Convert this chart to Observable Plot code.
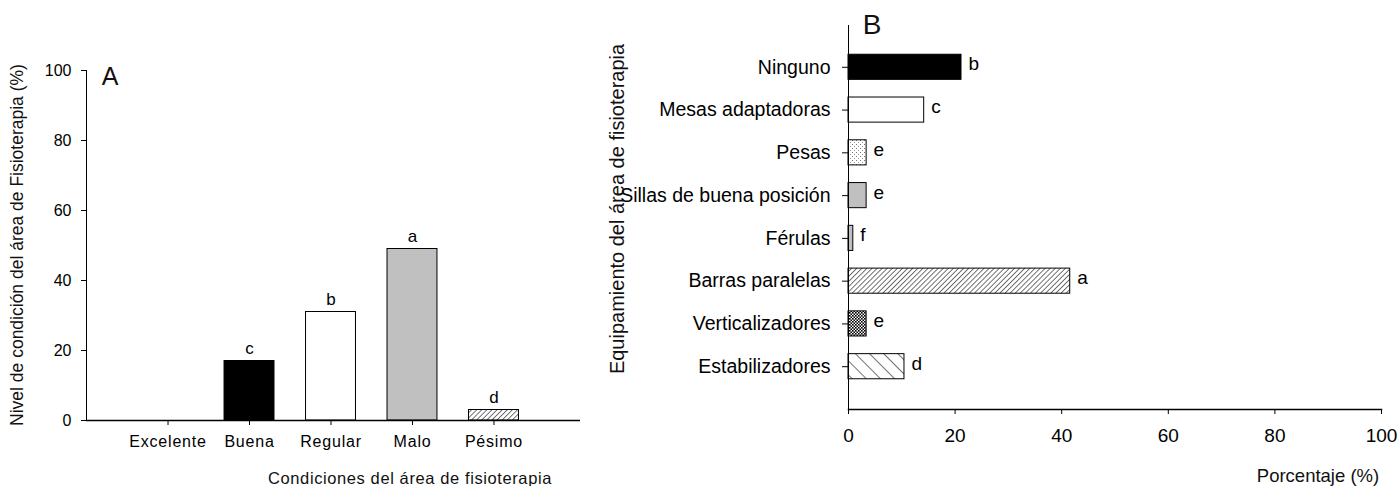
<!DOCTYPE html>
<html><head><meta charset="utf-8">
<script src="https://cdn.jsdelivr.net/npm/d3@7"></script>
<script src="https://cdn.jsdelivr.net/npm/@observablehq/plot@0.6"></script>
<style>
body{margin:0;background:#fff;font-family:"Liberation Sans",Arial,sans-serif;}
#wrap{position:relative;width:1397px;height:486px;overflow:hidden;background:#fff;}
#wrap svg.chart{position:absolute;top:0;overflow:visible;}
.t{position:absolute;transform:translate(-50%,-50%);white-space:nowrap;line-height:1;color:#111;}
.left g[aria-label="x-axis tick label"] text{letter-spacing:0.8px;}
</style></head><body>
<svg width="0" height="0" style="position:absolute">
<defs>
 <pattern id="hatchFine" patternUnits="userSpaceOnUse" width="3.6" height="3.6" patternTransform="rotate(45)">
   <rect width="3.6" height="3.6" fill="#fff"/><line x1="0" y1="0" x2="0" y2="3.6" stroke="#000" stroke-width="1.1"/>
 </pattern>
 <pattern id="hatchWide" patternUnits="userSpaceOnUse" width="10" height="10" patternTransform="rotate(-45)">
   <rect width="10" height="10" fill="#fff"/><line x1="0" y1="0" x2="0" y2="10" stroke="#000" stroke-width="1.1"/>
 </pattern>
 <pattern id="stipple" patternUnits="userSpaceOnUse" width="4" height="4">
   <rect width="4" height="4" fill="#fff"/><rect x="0" y="0" width="1" height="1" fill="#777"/><rect x="2" y="2" width="1" height="1" fill="#999"/>
 </pattern>
 <pattern id="checker" patternUnits="userSpaceOnUse" width="3" height="3">
   <rect width="3" height="3" fill="#fff"/><rect x="0" y="0" width="1.6" height="1.6" fill="#000"/><rect x="1.5" y="1.5" width="1.5" height="1.5" fill="#000"/>
 </pattern>
</defs></svg>
<div id="wrap"></div>
<script>
// ---- Panel A data ----
const condCats = ["Excelente", "Buena", "Regular", "Malo", "Pésimo"];
const condValues = [0, 17, 31, 49, 3];
const condLetters = ["", "c", "b", "a", "d"];
const condTicks = [0, 20, 40, 60, 80, 100];

// ---- Panel B data ----
const equipCats = ["Ninguno", "Mesas adaptadoras", "Pesas", "Sillas de buena posición", "Férulas", "Barras paralelas", "Verticalizadores", "Estabilizadores"];
const equipValues = [21.2, 14.2, 3.4, 3.4, 0.9, 41.6, 3.4, 10.5];
const equipLetters = ["b", "c", "e", "e", "f", "a", "e", "d"];
const pctTicks = [0, 20, 40, 60, 80, 100];

// ---- styles (kept apart from data) ----
const condFill = {"Excelente": "#fff", "Buena": "#000", "Regular": "#fff", "Malo": "#c0c0c0", "Pésimo": "url(#hatchFine)"};
const equipFill = {"Ninguno": "#000", "Mesas adaptadoras": "#fff", "Pesas": "url(#stipple)", "Sillas de buena posición": "#c0c0c0", "Férulas": "#c0c0c0", "Barras paralelas": "url(#hatchFine)", "Verticalizadores": "url(#checker)", "Estabilizadores": "url(#hatchWide)"};

const condRows = condCats.map((c, i) => ({cat: c, value: condValues[i], letter: condLetters[i]}));
const equipRows = equipCats.map((c, i) => ({cat: c, value: equipValues[i], letter: equipLetters[i]}));

const wrap = document.getElementById("wrap");
const FONT = "'Liberation Sans', Arial, sans-serif";

const left = Plot.plot({
  width: 600, height: 486,
  marginLeft: 86, marginRight: 20, marginTop: 70, marginBottom: 66,
  style: {fontFamily: FONT, color: "#000", background: "transparent"},
  x: {domain: condCats, range: [86, 575], paddingInner: 0.387, paddingOuter: 0.694, round: false},
  y: {domain: [0, 100]},
  color: {type: "identity"},
  marks: [
    Plot.barY(condRows.filter(d => d.value > 0), {x: "cat", y: "value", fill: d => condFill[d.cat], stroke: "#000", strokeWidth: 1}),
    Plot.text(condRows, {x: "cat", y: "value", text: "letter", dy: -12, fontSize: 17}),
    Plot.axisY({ticks: condTicks, tickSize: 5, tickPadding: 10, fontSize: 16, label: null}),
    Plot.axisX({tickSize: 5, tickPadding: 10, fontSize: 16, label: null}),
    Plot.ruleY([0], {stroke: "#000", strokeWidth: 1.5}),
    Plot.frame({anchor: "left", stroke: "#000"})
  ]
});
left.classList.add("chart", "left");
left.style.left = "0px";
wrap.appendChild(left);

const right = Plot.plot({
  width: 797, height: 486,
  marginLeft: 248, marginRight: 16, marginTop: 25, marginBottom: 77,
  style: {fontFamily: FONT, color: "#000", background: "transparent"},
  x: {domain: [0, 100], range: [248, 781]},
  y: {domain: equipCats, range: [24, 409], paddingInner: 0.413, paddingOuter: 0.707, round: false},
  color: {type: "identity"},
  marks: [
    Plot.barX(equipRows, {x: "value", y: "cat", fill: d => equipFill[d.cat], stroke: "#000", strokeWidth: 1}),
    Plot.text(equipRows, {x: "value", y: "cat", text: "letter", dx: 7, dy: -3, textAnchor: "start", fontSize: 19}),
    Plot.axisY({tickSize: 6, tickPadding: 12, fontSize: 19.5, label: null}),
    Plot.axisX({ticks: pctTicks, tickSize: 5, tickPadding: 14, fontSize: 19, label: null}),
    Plot.ruleX([0], {stroke: "#000", strokeWidth: 1}),
    Plot.frame({anchor: "bottom", stroke: "#000", strokeWidth: 1.5})
  ]
});
right.classList.add("chart", "right");
right.style.left = "600px";
wrap.appendChild(right);

function label(text, x, y, size, rotate, spacing) {
  const d = document.createElement("div");
  d.className = "t";
  d.textContent = text;
  d.style.left = x + "px";
  d.style.top = y + "px";
  d.style.fontSize = size + "px";
  if (spacing) d.style.letterSpacing = spacing + "px";
  if (rotate) d.style.transform = "translate(-50%,-50%) rotate(-90deg)";
  wrap.appendChild(d);
}
label("A", 110, 76, 25);
label("B", 872, 25, 28);
label("Nivel de condición del área de Fisioterapia (%)", 18, 245, 17.5, true);
label("Condiciones del área de fisioterapia", 410, 478, 16.5, false, 0.6);
label("Equipamiento del área de fisioterapia", 617, 209, 20, true);
label("Porcentaje (%)", 1318, 476, 18.5);
</script>
</body></html>
